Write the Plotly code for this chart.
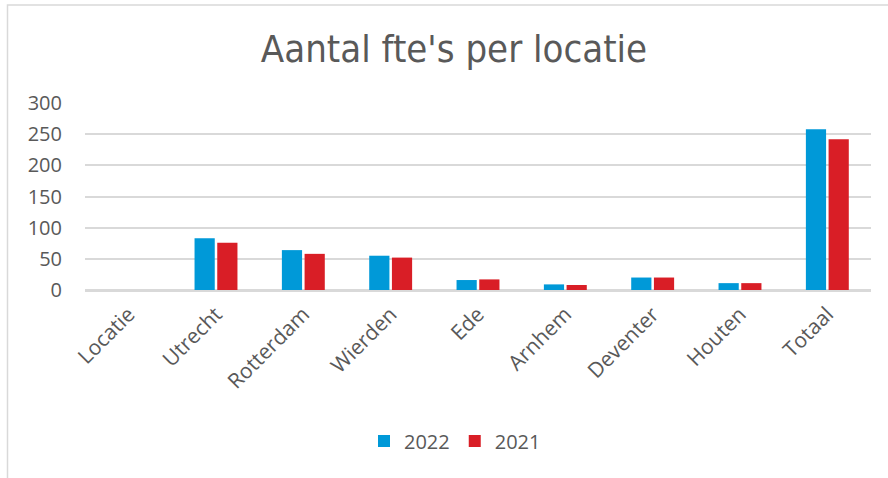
import plotly.graph_objects as go

categories = ["Locatie", "Utrecht", "Rotterdam", "Wierden", "Ede", "Arnhem", "Deventer", "Houten", "Totaal"]
fte_2022 = [None, 83, 64, 55, 16, 9, 20, 11, 258]
fte_2021 = [None, 76, 58, 52, 17, 8, 20, 11, 242]
y_ticks = [0, 50, 100, 150, 200, 250, 300]

W, H = 888, 478
ML, MR, MT, MB = 85, 17, 103, 188
pw = W - ML - MR
ph = H - MT - MB

text_col = "#595959"
tick_font = dict(family="Open Sans, Noto Sans, sans-serif", size=20, color=text_col)
xtick_font = dict(family="Open Sans, Noto Sans, sans-serif", size=21, color=text_col)

fig = go.Figure()
fig.add_trace(go.Bar(name="2022", x=categories, y=fte_2022, marker=dict(color="#0099D8", line=dict(width=0))))
fig.add_trace(go.Bar(name="2021", x=categories, y=fte_2021, marker=dict(color="#D91E26", line=dict(width=0))))

fig.update_layout(
    width=W, height=H,
    margin=dict(l=ML, r=MR, t=MT, b=MB, pad=0, autoexpand=False),
    paper_bgcolor="white", plot_bgcolor="white",
    barmode="group", bargap=0.48, bargroupgap=0.11,
    title=dict(text="Aantal fte's per locatie", x=454 / W, xref="container", xanchor="center",
               y=1 - 49 / H, yref="container", yanchor="middle",
               font=dict(family="DejaVu Sans Condensed, DejaVu Sans, sans-serif", size=38, color=text_col)),
    showlegend=True,
    legend=dict(orientation="h", x=(455 - ML) / pw, xanchor="center", xref="paper",
                y=-(441 - (MT + ph)) / ph, yanchor="middle", font=tick_font,
                itemwidth=30, tracegroupgap=0, bgcolor="rgba(0,0,0,0)"),
    font=tick_font,
)
fig.update_xaxes(type="category", tickangle=-45, tickfont=xtick_font, showgrid=False, automargin=False,
                 showline=True, linecolor="#d9d9d9", linewidth=1.5, ticks="", ticklabelstandoff=2)
fig.update_yaxes(range=[0, 300], tickvals=y_ticks, tickfont=tick_font, showgrid=True, automargin=False,
                 gridcolor="#d9d9d9", gridwidth=1.5, zeroline=True, zerolinecolor="#d9d9d9",
                 zerolinewidth=1.5, showline=False, ticks="", ticklabelstandoff=22)

# chart area border (decorative frame)
bx0 = (7.5 - ML) / pw
by1 = 1 + (MT - 5) / ph
by0 = -(H + 5 - (MT + ph)) / ph
bx1 = 1 + (MR + 10) / pw
fig.add_shape(type="rect", xref="paper", yref="paper", x0=bx0, x1=bx1, y0=by0, y1=by1,
              line=dict(color="#d9d9d9", width=1.5), fillcolor="rgba(0,0,0,0)", layer="below")

fig.write_html("out.html", config={"displayModeBar": False},
               post_script="document.body.style.margin='0';document.body.style.overflow='hidden';")
